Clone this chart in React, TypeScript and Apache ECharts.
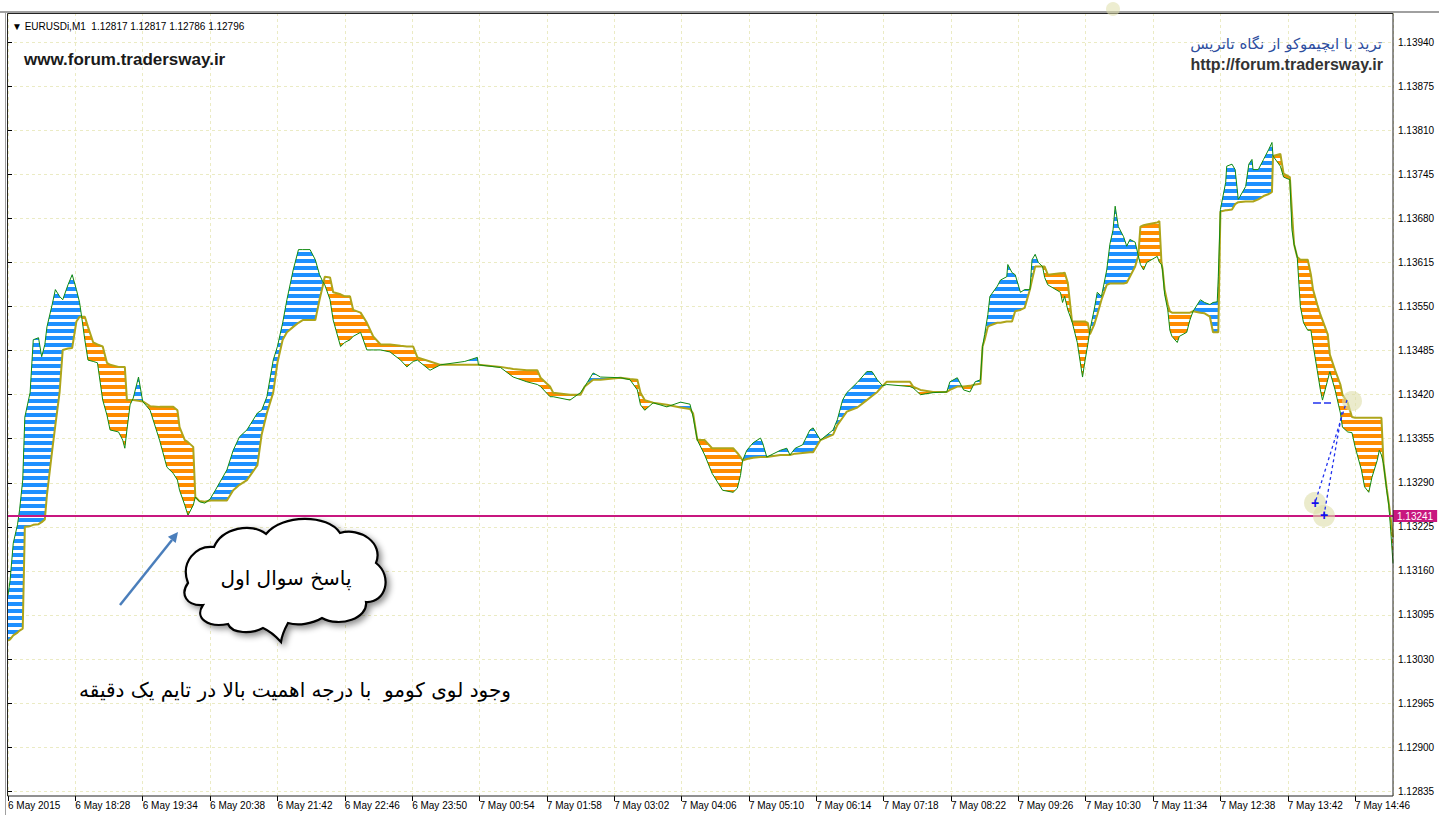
import React, { useEffect, useRef } from "react";
import * as echarts from "echarts";

// ---- data (bar index on x, price on y) ----
const bars = [0,2,5,9,11,14,16,21,24,29,32,35,37,42,45,49,52,57,61,65,68,70,73,76,81,85,90,94,97,105,109,111,113,116,119,124,128,135,144,151,157,161,163,168,171,176,178,182,187,192,197,201,208,214,220,227,237,241,246,252,256,261,265,271,276,280,287,292,296,299,301,306,309,316,320,325,328,335,341,347,354,363,373,379,385,389,401,411,434,446,447,468,480,493,503,506,515,518,534,544,548,556,563,582,591,598,601,605,613,626,639,648,651,655,662,669,679,689,693,696,698,702,708,715,717,721,734,740,743,748,755,762,765,772,784,788,793,797,807,816,821,826,831,835,857,860,867,879,892,895,902,908,914,919,924,926,928,931,933,940,943,949,950,954,957,962,966,971,973,976,979,983,985,988,1000,1002,1004,1007,1011,1016,1021,1023,1026,1028,1032,1035,1039,1044,1047,1050,1052,1055,1060,1063,1066,1071,1074,1076,1079,1082,1092,1094,1096,1097,1099,1102,1104,1106,1111,1113,1120,1123,1126,1133,1137,1142,1145,1149,1150,1152,1157,1158,1163,1166,1169,1176,1179,1182,1183,1188,1193,1198,1201,1202,1209,1212,1218,1220,1222,1225,1228,1231,1235,1238,1240,1244,1247,1249,1254,1256,1261,1266,1268,1273,1277,1280,1286,1289,1293,1296,1301,1303,1305,1307,1310,1312,1314,1316];

const spanA = [1.13124,1.13146,1.13201,1.13228,1.13250,1.13294,1.13387,1.13423,1.13501,1.13504,1.13476,1.13494,1.13520,1.13553,1.13575,1.13565,1.13560,1.13582,1.13597,1.13575,1.13556,1.13535,1.13501,1.13471,1.13469,1.13467,1.13412,1.13390,1.13368,1.13365,1.13353,1.13341,1.13368,1.13405,1.13415,1.13446,1.13410,1.13397,1.13353,1.13313,1.13304,1.13294,1.13279,1.13257,1.13242,1.13257,1.13269,1.13262,1.13260,1.13266,1.13279,1.13290,1.13309,1.13338,1.13358,1.13368,1.13393,1.13397,1.13417,1.13471,1.13491,1.13526,1.13560,1.13604,1.13634,1.13634,1.13634,1.13619,1.13597,1.13587,1.13582,1.13560,1.13530,1.13491,1.13497,1.13501,1.13506,1.13512,1.13486,1.13486,1.13486,1.13483,1.13471,1.13461,1.13469,1.13471,1.13456,1.13464,1.13469,1.13475,1.13464,1.13460,1.13446,1.13439,1.13435,1.13432,1.13417,1.13417,1.13412,1.13423,1.13432,1.13452,1.13446,1.13445,1.13442,1.13427,1.13405,1.13397,1.13408,1.13402,1.13409,1.13406,1.13387,1.13353,1.13331,1.13304,1.13279,1.13276,1.13282,1.13301,1.13323,1.13338,1.13349,1.13356,1.13349,1.13328,1.13338,1.13341,1.13331,1.13341,1.13346,1.13368,1.13371,1.13353,1.13368,1.13383,1.13412,1.13423,1.13438,1.13454,1.13454,1.13442,1.13433,1.13435,1.13432,1.13430,1.13420,1.13423,1.13424,1.13439,1.13445,1.13427,1.13424,1.13439,1.13442,1.13491,1.13509,1.13538,1.13565,1.13580,1.13589,1.13594,1.13612,1.13600,1.13597,1.13571,1.13575,1.13575,1.13619,1.13627,1.13615,1.13609,1.13593,1.13582,1.13571,1.13556,1.13565,1.13545,1.13528,1.13497,1.13446,1.13467,1.13494,1.13515,1.13545,1.13571,1.13565,1.13604,1.13642,1.13663,1.13698,1.13668,1.13653,1.13639,1.13649,1.13645,1.13625,1.13612,1.13604,1.13615,1.13624,1.13615,1.13612,1.13604,1.13568,1.13545,1.13515,1.13506,1.13497,1.13506,1.13512,1.13530,1.13543,1.13560,1.13556,1.13553,1.13556,1.13557,1.13594,1.13693,1.13733,1.13757,1.13760,1.13752,1.13708,1.13727,1.13760,1.13767,1.13752,1.13752,1.13767,1.13782,1.13792,1.13772,1.13757,1.13741,1.13737,1.13663,1.13642,1.13623,1.13550,1.13526,1.13515,1.13515,1.13494,1.13456,1.13427,1.13412,1.13442,1.13454,1.13427,1.13393,1.13372,1.13365,1.13364,1.13343,1.13309,1.13284,1.13276,1.13298,1.13323,1.13338,1.13331,1.13318,1.13279,1.13257,1.13216,1.13171];

const spanB = [1.13057,1.13059,1.13065,1.13069,1.13072,1.13075,1.13225,1.13226,1.13228,1.13229,1.13232,1.13236,1.13272,1.13338,1.13375,1.13423,1.13486,1.13488,1.13489,1.13528,1.13535,1.13535,1.13535,1.13520,1.13497,1.13494,1.13491,1.13467,1.13464,1.13461,1.13461,1.13461,1.13412,1.13412,1.13412,1.13411,1.13410,1.13403,1.13402,1.13402,1.13402,1.13397,1.13372,1.13353,1.13350,1.13343,1.13269,1.13263,1.13262,1.13264,1.13264,1.13264,1.13264,1.13279,1.13287,1.13294,1.13316,1.13361,1.13393,1.13423,1.13467,1.13501,1.13512,1.13520,1.13526,1.13530,1.13530,1.13530,1.13560,1.13580,1.13594,1.13593,1.13571,1.13568,1.13565,1.13565,1.13545,1.13541,1.13526,1.13506,1.13494,1.13494,1.13492,1.13491,1.13491,1.13475,1.13469,1.13464,1.13464,1.13464,1.13464,1.13461,1.13458,1.13456,1.13456,1.13445,1.13432,1.13423,1.13420,1.13420,1.13432,1.13442,1.13442,1.13445,1.13443,1.13442,1.13423,1.13412,1.13408,1.13405,1.13401,1.13399,1.13392,1.13353,1.13353,1.13341,1.13341,1.13341,1.13334,1.13328,1.13323,1.13325,1.13327,1.13328,1.13328,1.13328,1.13331,1.13331,1.13331,1.13333,1.13334,1.13335,1.13335,1.13353,1.13361,1.13375,1.13386,1.13395,1.13401,1.13412,1.13418,1.13424,1.13433,1.13439,1.13439,1.13432,1.13427,1.13424,1.13424,1.13427,1.13432,1.13432,1.13433,1.13435,1.13436,1.13491,1.13501,1.13520,1.13522,1.13526,1.13526,1.13528,1.13528,1.13528,1.13543,1.13545,1.13548,1.13575,1.13589,1.13609,1.13609,1.13609,1.13609,1.13597,1.13599,1.13599,1.13600,1.13585,1.13528,1.13528,1.13528,1.13528,1.13526,1.13509,1.13523,1.13538,1.13560,1.13582,1.13584,1.13584,1.13584,1.13584,1.13584,1.13585,1.13594,1.13609,1.13625,1.13668,1.13670,1.13671,1.13674,1.13676,1.13615,1.13606,1.13575,1.13553,1.13543,1.13541,1.13541,1.13541,1.13541,1.13541,1.13543,1.13541,1.13540,1.13535,1.13512,1.13512,1.13512,1.13690,1.13692,1.13692,1.13693,1.13701,1.13704,1.13705,1.13705,1.13705,1.13705,1.13708,1.13713,1.13716,1.13719,1.13772,1.13775,1.13746,1.13741,1.13689,1.13642,1.13623,1.13619,1.13619,1.13619,1.13597,1.13575,1.13553,1.13538,1.13530,1.13509,1.13479,1.13456,1.13435,1.13420,1.13408,1.13387,1.13386,1.13386,1.13386,1.13386,1.13386,1.13386,1.13386,1.13386,1.13318,1.13282,1.13260,1.13235,1.13210];

const timeLabels = ["6 May 2015","6 May 18:28","6 May 19:34","6 May 20:38","6 May 21:42","6 May 22:46","6 May 23:50","7 May 00:54","7 May 01:58","7 May 03:02","7 May 04:06","7 May 05:10","7 May 06:14","7 May 07:18","7 May 08:22","7 May 09:26","7 May 10:30","7 May 11:34","7 May 12:38","7 May 13:42","7 May 14:46"];
const priceTicks = [1.12835,1.12900,1.12965,1.13030,1.13095,1.13160,1.13225,1.13290,1.13355,1.13420,1.13485,1.13550,1.13615,1.13680,1.13745,1.13810,1.13875,1.13940];
const currentPrice = 1.13241;
const symbolLine = "\u25BC EURUSDi,M1  1.12817 1.12817 1.12786 1.12796";
const siteLeft = "www.forum.tradersway.ir";
const titleRight = "ترید با ایچیموکو از نگاه تاتریس";
const siteRight = "http://forum.tradersway.ir";
const calloutText = "پاسخ سوال اول";
const noteText = "وجود لوی کومو  با درجه اهمیت بالا در تایم یک دقیقه";

const PRICE_MIN = 1.12828;
const PRICE_MAX = 1.13983;
const BAR_MAX = 1316;
const LABEL_STEP = 64;

const CLOUD_D =
  "M188,583 C180,562 196,545 214,547 C222,528 252,522 266,534 C282,514 328,514 340,533 C360,527 384,543 376,563 C393,576 386,603 366,602 C368,618 340,628 322,618 C312,624 298,626 288,623 Q282,634 281,642 Q272,632 263,628 C252,634 232,634 228,624 C208,628 194,618 203,605 C186,606 180,594 188,583 Z";
echarts.graphic.registerShape("calloutCloud", echarts.graphic.extendPath(CLOUD_D, {}));

type Row = [number, number, number];
function buildRuns() {
  const n = Math.min(bars.length, spanA.length, spanB.length);
  const segs: { s: number; p: [Row, Row] }[] = [];
  for (let i = 0; i < n - 1; i++) {
    const x0 = bars[i], x1 = bars[i + 1];
    const a0 = spanA[i], a1 = spanA[i + 1], b0 = spanB[i], b1 = spanB[i + 1];
    const d0 = a0 - b0, d1 = a1 - b1;
    if (d0 * d1 < 0) {
      const t = d0 / (d0 - d1);
      const xc = x0 + t * (x1 - x0);
      const yc = a0 + t * (a1 - a0);
      segs.push({ s: Math.sign(d0), p: [[x0, a0, b0], [xc, yc, yc]] });
      segs.push({ s: Math.sign(d1), p: [[xc, yc, yc], [x1, a1, b1]] });
    } else {
      segs.push({ s: Math.sign(d0 + d1), p: [[x0, a0, b0], [x1, a1, b1]] });
    }
  }
  const runs: { s: number; pts: Row[] }[] = [];
  let cur: { s: number; pts: Row[] } | null = null;
  for (const sg of segs) {
    if (sg.s === 0) { cur = null; continue; }
    if (cur && cur.s === sg.s) cur.pts.push(sg.p[1]);
    else { cur = { s: sg.s, pts: [sg.p[0], sg.p[1]] }; runs.push(cur); }
  }
  return runs;
}

function stripe(color: string, on: number, off: number) {
  const c = document.createElement("canvas");
  c.width = 4; c.height = on + off;
  const ctx = c.getContext("2d")!;
  ctx.fillStyle = "#ffffff"; ctx.fillRect(0, 0, 4, on + off);
  ctx.fillStyle = color; ctx.fillRect(0, 0, 4, on);
  return { image: c.toDataURL(), repeat: "repeat", imageWidth: 4, imageHeight: on + off } as any;
}

export default function App() {
  const ref = useRef<HTMLDivElement>(null);
  useEffect(() => {
    if (!ref.current) return;
    const chart = echarts.init(ref.current, undefined, { renderer: "svg" });
    const runs = buildRuns();
    const bluePat = stripe("#1e90ff", 4, 3);
    const orangePat = stripe("#ff8c00", 4, 3);
    const n = Math.min(bars.length, spanA.length, spanB.length);
    const lineA = [] as number[][];
    const lineB = [] as number[][];
    for (let i = 0; i < n; i++) { lineA.push([bars[i], spanA[i]]); lineB.push([bars[i], spanB[i]]); }
    const gridColor = "#ebebc4";
    const F = '"Liberation Sans", Arial, sans-serif';
    const FA = '"DejaVu Sans", sans-serif';

    chart.setOption({
      animation: false,
      backgroundColor: "#ffffff",
      textStyle: { fontFamily: F },
      grid: { left: 8, right: 46, top: 13, bottom: 19, containLabel: false, outerBoundsMode: "none" } as any,
      xAxis: {
        type: "value", min: 0, max: BAR_MAX, interval: LABEL_STEP,
        axisLine: { show: false },
        axisTick: { show: true, length: 5, lineStyle: { color: "#000" } },
        axisLabel: {
          color: "#000", fontSize: 10, fontFamily: F, align: "left", margin: 4, showMaxLabel: false,
          formatter: (v: number) => (v % LABEL_STEP === 0 ? timeLabels[v / LABEL_STEP] ?? "" : ""),
        },
        splitLine: { show: true, lineStyle: { color: gridColor, type: [3, 3], width: 1 } },
      },
      yAxis: {
        type: "value", position: "right", min: PRICE_MIN, max: PRICE_MAX,
        axisLine: { show: false },
        axisTick: { show: true, length: 4, customValues: priceTicks, lineStyle: { color: "#000" } },
        axisLabel: { color: "#000", fontSize: 10, fontFamily: F, margin: 5, customValues: priceTicks, formatter: (v: number) => v.toFixed(5) },
        splitLine: { show: false },
      },
      series: [
        {
          type: "line", data: [], z: 0, silent: true,
          markLine: {
            z: 0, silent: true, symbol: ["none", "none"], animation: false, precision: 5,
            label: { show: false },
            lineStyle: { color: gridColor, type: [3, 3], width: 1 },
            data: priceTicks.map((v) => ({ yAxis: v })),
          },
        },
        {
          type: "custom", coordinateSystem: "cartesian2d", z: 2, silent: true, clip: true,
          data: runs.map((r) => [r.pts[0][0], r.pts[0][1]]),
          renderItem: (params: any, api: any) => {
            const run = runs[params.dataIndex];
            const top = run.pts.map((p) => api.coord([p[0], p[1]]));
            const bot = run.pts.slice().reverse().map((p) => api.coord([p[0], p[2]]));
            return { type: "polygon", shape: { points: top.concat(bot) }, style: { fill: run.s > 0 ? bluePat : orangePat } };
          },
        },
        {
          name: "Senkou Span B", type: "line", data: lineB, z: 3, showSymbol: false, silent: true,
          lineStyle: { color: "#aea51a", width: 2 },
        },
        {
          name: "Senkou Span A", type: "line", data: lineA, z: 4, showSymbol: false, silent: true,
          lineStyle: { color: "#118a11", width: 1 },
          markLine: {
            silent: true, symbol: ["none", "none"], animation: false, precision: 5,
            lineStyle: { color: "#c8177f", width: 2, type: "solid" },
            label: {
              show: true, position: "end", distance: 0, formatter: currentPrice.toFixed(5),
              backgroundColor: "#c8177f", color: "#ffffff", fontSize: 10, fontFamily: F, padding: [1, 4, 1, 4],
            },
            data: [{ yAxis: currentPrice }],
          },
        },
      ],
      graphic: {
        elements: [
          { type: "line", shape: { x1: 0, y1: 12, x2: 1439, y2: 12 }, style: { stroke: "#a0a0a0", lineWidth: 2 }, silent: true },
          { type: "line", shape: { x1: 5.5, y1: 12, x2: 5.5, y2: 815 }, style: { stroke: "#a0a0a0", lineWidth: 1 }, silent: true },
          { type: "rect", shape: { x: 7.5, y: 13.5, width: 1385.5, height: 782.5 }, style: { fill: "none", stroke: "#222", lineWidth: 1 }, silent: true, z: 50 },
          { type: "circle", z: 55, shape: { cx: 1113, cy: 9, r: 7 }, style: { fill: "rgba(222,222,170,0.55)" }, silent: true },
          { type: "text", x: 12, y: 26, style: { text: symbolLine, fill: "#000", font: `10px ${F}`, textVerticalAlign: "middle" }, silent: true, z: 60 },
          { type: "text", x: 24, y: 59, style: { text: siteLeft, fill: "#1a1a1a", font: `bold 17px ${F}`, textVerticalAlign: "middle" }, silent: true, z: 60 },
          { type: "text", x: 1286, y: 44, style: { text: titleRight, fill: "#2d4e9e", font: `15px ${FA}`, textAlign: "center", textVerticalAlign: "middle" }, silent: true, z: 60 },
          { type: "text", x: 1383, y: 64, style: { text: siteRight, fill: "#333333", font: `bold 16px ${F}`, textAlign: "right", textVerticalAlign: "middle" }, silent: true, z: 60 },
          {
            type: "calloutCloud", x: 0, y: 0, z: 60, silent: true,
            style: { fill: "#ffffff", stroke: "#000000", lineWidth: 2.2, shadowBlur: 6, shadowColor: "rgba(0,0,0,0.45)", shadowOffsetX: 3, shadowOffsetY: 3 },
          },
          { type: "text", x: 286, y: 578, z: 61, style: { text: calloutText, fill: "#000", font: `20px ${FA}`, textAlign: "center", textVerticalAlign: "middle" }, silent: true },
          { type: "line", z: 60, shape: { x1: 120, y1: 605, x2: 172, y2: 540 }, style: { stroke: "#4a7ebb", lineWidth: 2.5 }, silent: true },
          { type: "polygon", z: 60, shape: { points: [[178, 532], [175.7, 542.9], [167.9, 536.7]] }, style: { fill: "#4a7ebb" }, silent: true },
          { type: "text", x: 295, y: 690, z: 60, style: { text: noteText, fill: "#000", font: `20px ${FA}`, textAlign: "center", textVerticalAlign: "middle" }, silent: true },
          { type: "circle", z: 55, shape: { cx: 1352, cy: 401, r: 10 }, style: { fill: "rgba(222,222,170,0.6)" }, silent: true },
          { type: "circle", z: 55, shape: { cx: 1315, cy: 503, r: 11 }, style: { fill: "rgba(222,222,170,0.6)" }, silent: true },
          { type: "circle", z: 55, shape: { cx: 1324, cy: 516, r: 11 }, style: { fill: "rgba(222,222,170,0.6)" }, silent: true },
          { type: "line", z: 56, shape: { x1: 1347, y1: 400, x2: 1315, y2: 503 }, style: { stroke: "#2233ee", lineWidth: 1.3, lineDash: [3, 3] }, silent: true },
          { type: "line", z: 56, shape: { x1: 1342, y1: 412, x2: 1324, y2: 515 }, style: { stroke: "#2233ee", lineWidth: 1.3, lineDash: [3, 3] }, silent: true },
          { type: "line", z: 56, shape: { x1: 1313, y1: 403, x2: 1331, y2: 403 }, style: { stroke: "#2233ee", lineWidth: 1.3, lineDash: [8, 3] }, silent: true },
          { type: "text", x: 1315, y: 503, z: 57, style: { text: "+", fill: "#1111ee", font: `bold 14px ${F}`, textAlign: "center", textVerticalAlign: "middle" }, silent: true },
          { type: "text", x: 1324, y: 515, z: 57, style: { text: "+", fill: "#1111ee", font: `bold 14px ${F}`, textAlign: "center", textVerticalAlign: "middle" }, silent: true },
        ],
      },
    });
    return () => chart.dispose();
  }, []);
  return <div ref={ref} style={{ position: "absolute", left: 0, top: 0, width: 1439, height: 815 }} />;
}
